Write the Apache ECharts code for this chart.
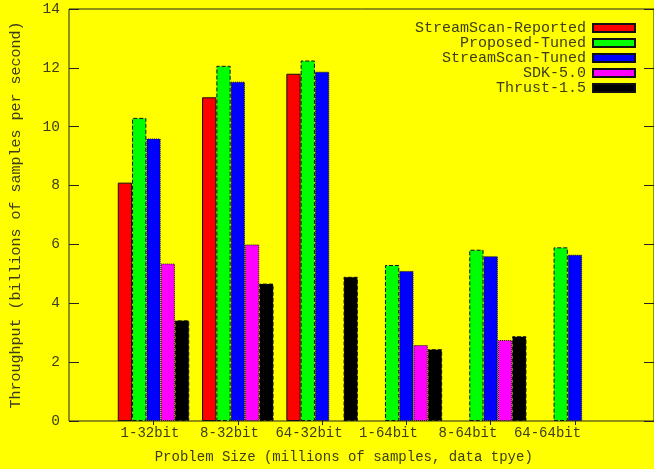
<!DOCTYPE html>
<html>
<head>
<meta charset="utf-8">
<script src="https://cdn.jsdelivr.net/npm/echarts@6/dist/echarts.min.js"></script>
<style>html,body{margin:0;padding:0;background:#ffff00;}#c{width:654px;height:469px;}</style>
</head>
<body>
<div id="c"></div>
<script>
const categories = ['1-32bit', '8-32bit', '64-32bit', '1-64bit', '8-64bit', '64-64bit'];
const seriesNames = ['StreamScan-Reported', 'Proposed-Tuned', 'StreamScan-Tuned', 'SDK-5.0', 'Thrust-1.5'];
const streamScanReported = [8.1, 11.0, 11.8, null, null, null];
const proposedTuned = [10.3, 12.07, 12.25, 5.3, 5.82, 5.9];
const streamScanTuned = [9.6, 11.53, 11.87, 5.1, 5.6, 5.65];
const sdk50 = [5.35, 6.0, null, 2.58, 2.75, null];
const thrust15 = [3.42, 4.67, 4.9, 2.44, 2.88, null];
const yMin = 0, yMax = 14, yStep = 2;
const yTitle = 'Throughput (billions of samples per second)';
const xTitle = 'Problem Size (millions of samples, data tpye)';

const seriesValues = [streamScanReported, proposedTuned, streamScanTuned, sdk50, thrust15];
const colors = ['#ff0000', '#00ff00', '#0000ff', '#ff00ff', '#000000'];
const borderTypes = ['solid', 'dashed', 'dotted', 'dotted', 'dashed'];
const FONT = 'Liberation Mono';
const TXT = '#3d3d1a';

const chart = echarts.init(document.getElementById('c'), null, {renderer: 'canvas'});
const option = {
  backgroundColor: '#ffff00',
  animation: false,
  textStyle: {fontFamily: FONT, color: TXT},
  grid: [
    {left: 69, top: 9, width: 594, height: 412, show: true, borderColor: '#222', borderWidth: 1, backgroundColor: 'transparent'},
    {left: 111.35, top: 9, width: 505.8, height: 412},
    {left: 110.25, top: 9, width: 477, height: 412}
  ],
  xAxis: [
    {gridIndex: 0, type: 'value', min: 0, max: 1, axisLine: {show: false}, axisTick: {show: false}, axisLabel: {show: false}, splitLine: {show: false}},
    {gridIndex: 1, type: 'category', data: categories, position: 'top',
      axisLine: {show: false}, axisLabel: {show: false}, splitLine: {show: false},
      axisTick: {show: true, inside: true, alignWithLabel: true, interval: 0, length: 4, lineStyle: {color: '#222'}}},
    {gridIndex: 2, type: 'category', data: categories, position: 'bottom',
      axisLine: {show: false}, axisTick: {show: false}, splitLine: {show: false},
      axisLabel: {show: true, interval: 0, margin: 9, fontFamily: FONT, fontSize: 14, color: TXT},
      name: xTitle, nameLocation: 'middle', nameGap: 33,
      nameTextStyle: {fontFamily: FONT, fontSize: 14, color: TXT, padding: [0, 10, 0, 0]}}
  ],
  yAxis: [
    {gridIndex: 0, type: 'value', min: yMin, max: yMax, interval: yStep, position: 'left',
      axisLine: {show: false}, splitLine: {show: false},
      axisTick: {show: true, inside: true, length: 10, lineStyle: {color: '#222'}},
      axisLabel: {margin: 9, fontFamily: FONT, fontSize: 14.5, color: TXT},
      name: yTitle, nameLocation: 'middle', nameGap: 45,
      nameTextStyle: {fontFamily: FONT, fontSize: 15, color: TXT}},
    {gridIndex: 0, type: 'value', min: yMin, max: yMax, interval: yStep, position: 'right',
      axisLine: {show: false}, splitLine: {show: false}, axisLabel: {show: false},
      axisTick: {show: true, inside: true, length: 10, lineStyle: {color: '#222'}}},
    {gridIndex: 1, type: 'value', min: yMin, max: yMax, interval: yStep, show: false},
    {gridIndex: 2, type: 'value', min: yMin, max: yMax, interval: yStep, show: false}
  ],
  legend: {
    right: 13, top: 15.5, orient: 'vertical', align: 'right', icon: 'rect',
    itemWidth: 42, itemHeight: 8, itemGap: 0,
    textStyle: {fontFamily: FONT, fontSize: 15, color: TXT, lineHeight: 15, padding: [0, 2, 0, 0]},
    data: seriesNames
  },
  series: seriesNames.map((n, i) => ({
    name: n, type: 'bar', xAxisIndex: 1, yAxisIndex: 2,
    data: seriesValues[i].map(v => v === null ? '-' : v),
    barWidth: 14.3, barGap: '0%',
    itemStyle: {color: colors[i], borderColor: '#111', borderWidth: 1, borderType: borderTypes[i]}
  }))
};
chart.setOption(option);
</script>
</body>
</html>
